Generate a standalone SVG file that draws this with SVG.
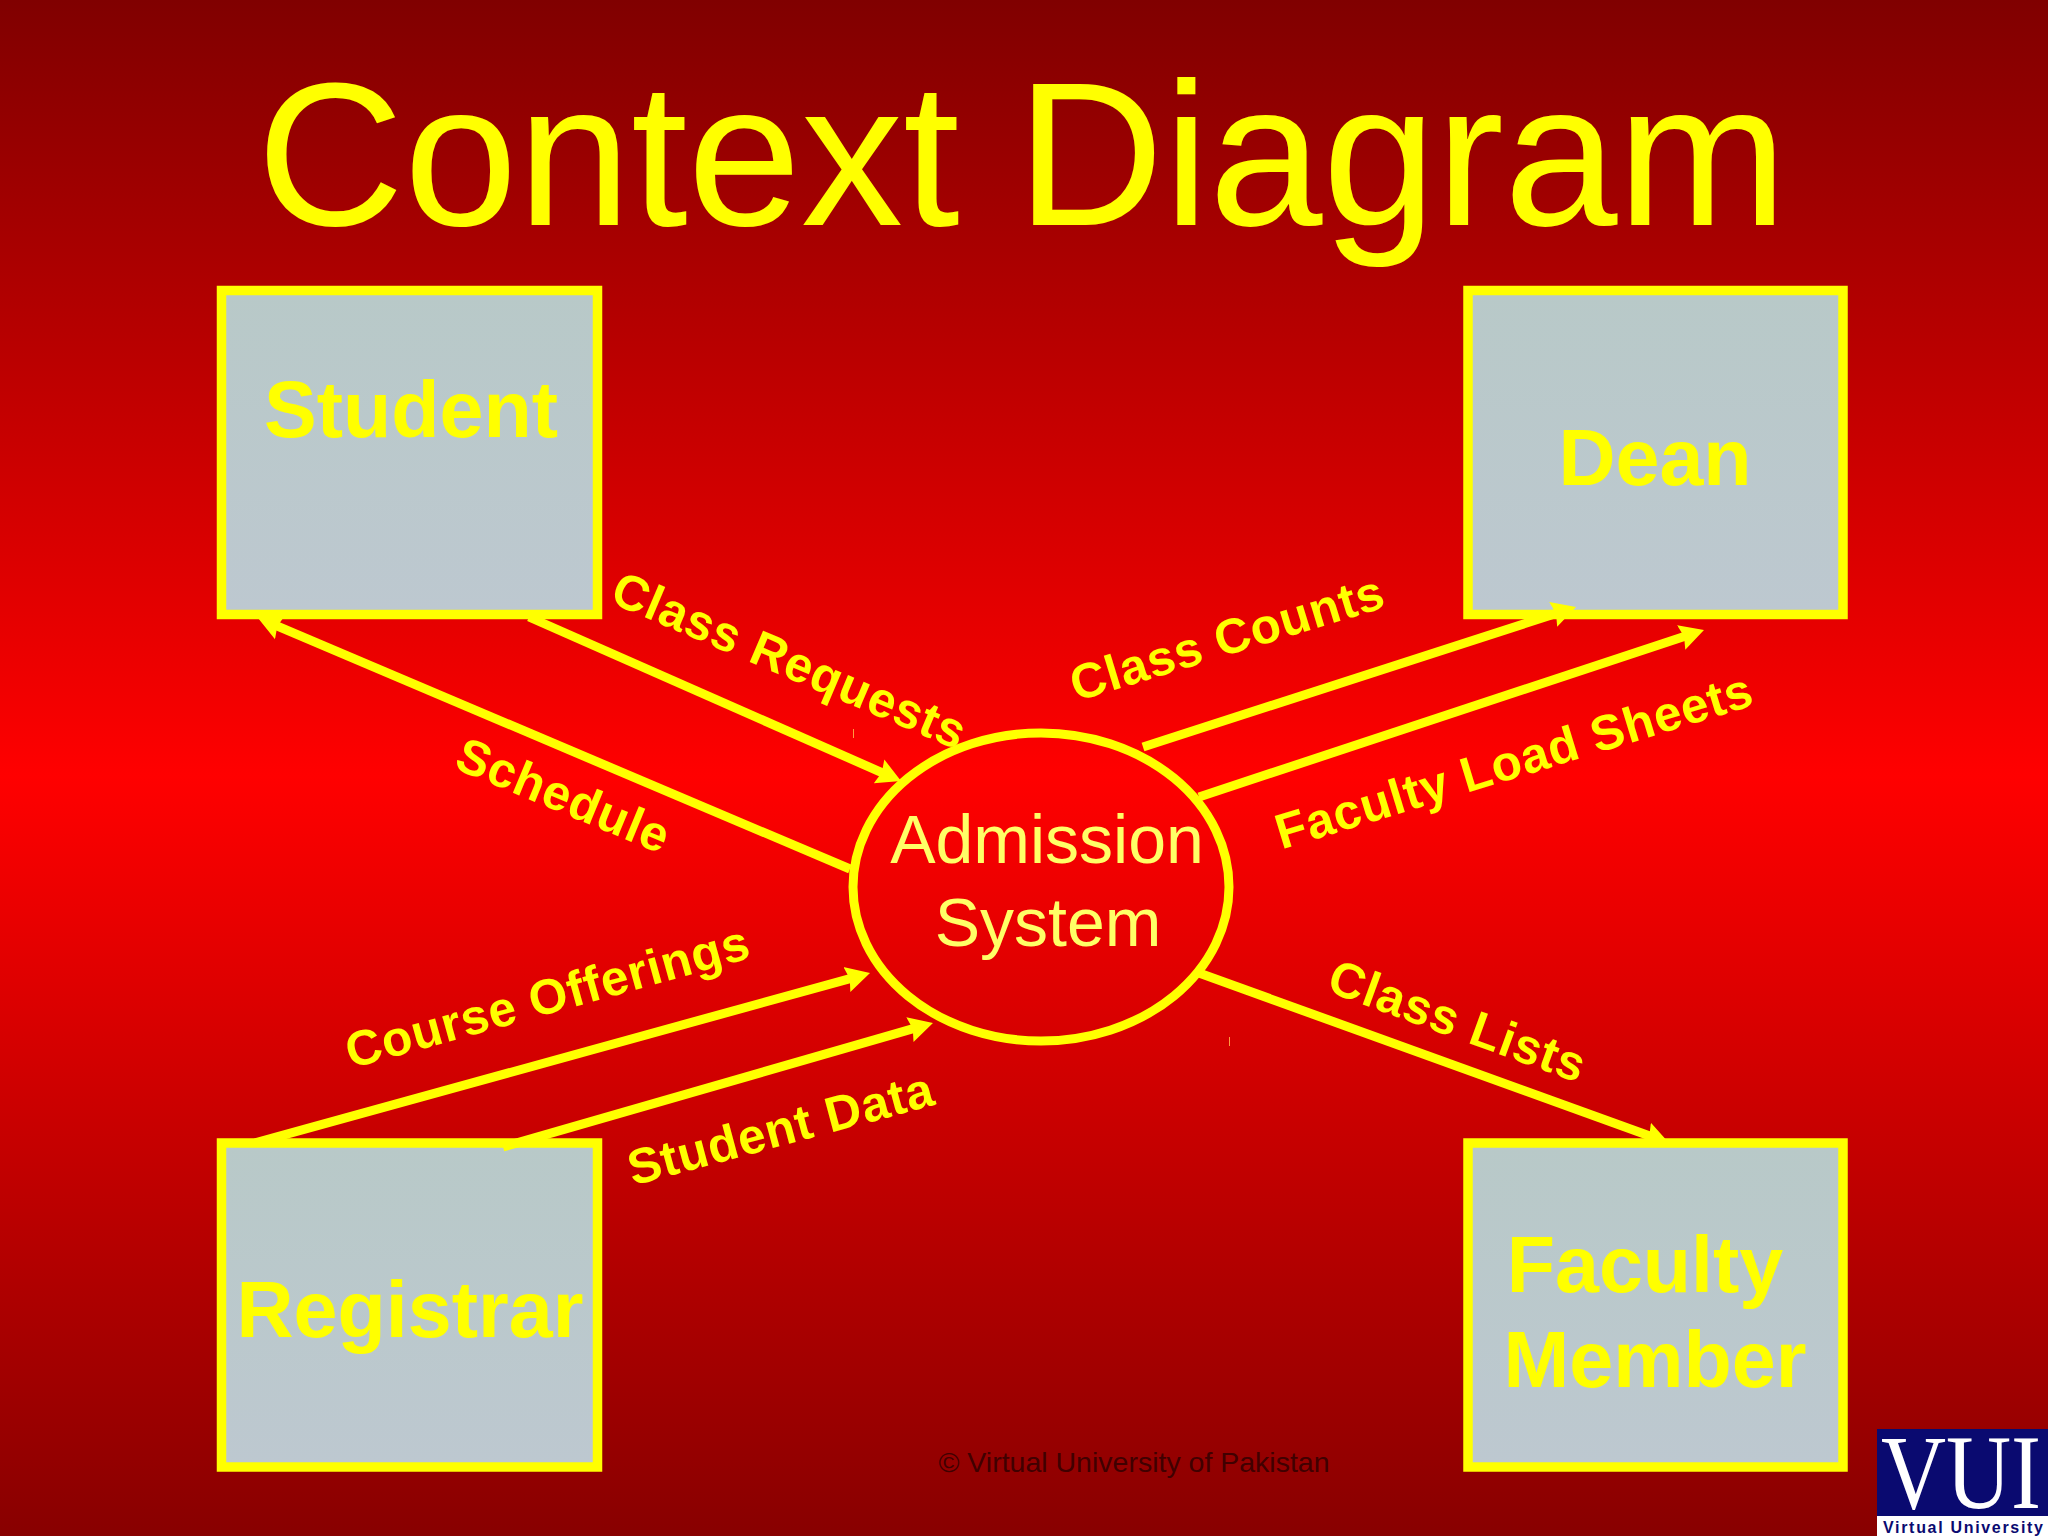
<svg xmlns="http://www.w3.org/2000/svg" width="2048" height="1536" viewBox="0 0 2048 1536">
<style>
text{font-family:"Liberation Sans",Arial,sans-serif}
.box{fill:url(#boxg);stroke:#ffff00;stroke-width:9.5}
.nl{font-weight:700;font-size:79px;fill:#ffff00;text-anchor:middle}
.fl{font-weight:700;font-size:49.500px;fill:#ffff00;text-anchor:middle;letter-spacing:0.8px}
.cn{fill:none;stroke:#ffff00;stroke-width:9}
.st{font-size:68px;fill:#ffff66;text-anchor:middle}
</style>
<defs>
<linearGradient id="bg" x1="0" y1="0" x2="0" y2="1">
<stop offset="0" stop-color="#800000"/><stop offset="0.505" stop-color="#ff0000"/><stop offset="1" stop-color="#880000"/>
</linearGradient>
<linearGradient id="boxg" x1="0" y1="0" x2="0" y2="1">
<stop offset="0" stop-color="#b8c9c8"/><stop offset="1" stop-color="#bdc8d0"/>
</linearGradient>
<marker id="ah" markerUnits="userSpaceOnUse" markerWidth="30" markerHeight="30" refX="8" refY="15" orient="auto">
<path d="M0 2 L24 15 L0 28 L3 15 Z" fill="#ffff00"/>
</marker>
</defs>
<rect width="2048" height="1536" fill="url(#bg)"/>
<text id="title" x="1022" y="225" font-size="204" fill="#ffff00" text-anchor="middle">Context Diagram</text>
<g id="student"><rect class="box" x="221.500" y="290.500" width="376" height="324"/><text class="nl" x="411" y="437">Student</text></g>
<g id="dean"><rect class="box" x="1468" y="290.500" width="375" height="324"/><text class="nl" x="1655" y="485">Dean</text></g>
<g id="registrar"><rect class="box" x="221.500" y="1143" width="376" height="324"/><text class="nl" x="410" y="1337">Registrar</text></g>
<g id="faculty"><rect class="box" x="1468" y="1143" width="375" height="324"/><text class="nl" x="1645" y="1292">Faculty</text><text class="nl" x="1655" y="1387">Member</text></g>
<g id="process"><ellipse cx="1041" cy="887" rx="188" ry="154" fill="none" stroke="#ffff00" stroke-width="9"/>
<text class="st" x="1047" y="863">Admission</text><text class="st" x="1048" y="946">System</text></g>
<g id="connectors">
<line class="cn" x1="850" y1="869" x2="272.700" y2="624.200" marker-end="url(#ah)"/>
<line class="cn" x1="529" y1="617" x2="886.400" y2="774.600" marker-end="url(#ah)"/>
<line class="cn" x1="1143" y1="747" x2="1560.800" y2="611.900" marker-end="url(#ah)"/>
<line class="cn" x1="1199" y1="797" x2="1688.800" y2="635" marker-end="url(#ah)"/>
<line class="cn" x1="1199" y1="973" x2="1654" y2="1137.600" marker-end="url(#ah)"/>
<line class="cn" x1="255" y1="1143" x2="854.600" y2="977.300" marker-end="url(#ah)"/>
<line class="cn" x1="503" y1="1147" x2="917.600" y2="1027.400" marker-end="url(#ah)"/>
</g>
<g id="labels">
<text class="fl" transform="translate(783 676) rotate(23)">Class Requests</text>
<text class="fl" transform="translate(557 811) rotate(22.500)">Schedule</text>
<text class="fl" transform="translate(1232 654) rotate(-17)">Class Counts</text>
<text class="fl" transform="translate(1519 777) rotate(-17)">Faculty Load Sheets</text>
<text class="fl" transform="translate(1452 1037) rotate(20)">Class Lists</text>
<text class="fl" transform="translate(552 1013) rotate(-15.500)">Course Offerings</text>
<text class="fl" transform="translate(785 1145) rotate(-15)">Student Data</text>
</g>
<rect x="853" y="729" width="1" height="9" fill="#ff9a40"/>
<rect x="1229" y="1037" width="1" height="9" fill="#ff9a40"/>
<text id="copyright" x="1134" y="1472" font-size="28.500" fill="#400000" text-anchor="middle">© Virtual University of Pakistan</text>
<g id="logo">
<rect x="1877" y="1429" width="171" height="107" fill="#0a0a70"/>
<rect x="1877" y="1516" width="171" height="20" fill="#ffffff"/>
<text transform="translate(1881 1508) scale(.85 1)" font-size="106" fill="#ffffff" style="font-family:'Liberation Serif',serif">VUI</text>
<text x="1883" y="1533" font-size="16" font-weight="700" fill="#0a0a70" textLength="160">Virtual University</text>
</g>
</svg>
